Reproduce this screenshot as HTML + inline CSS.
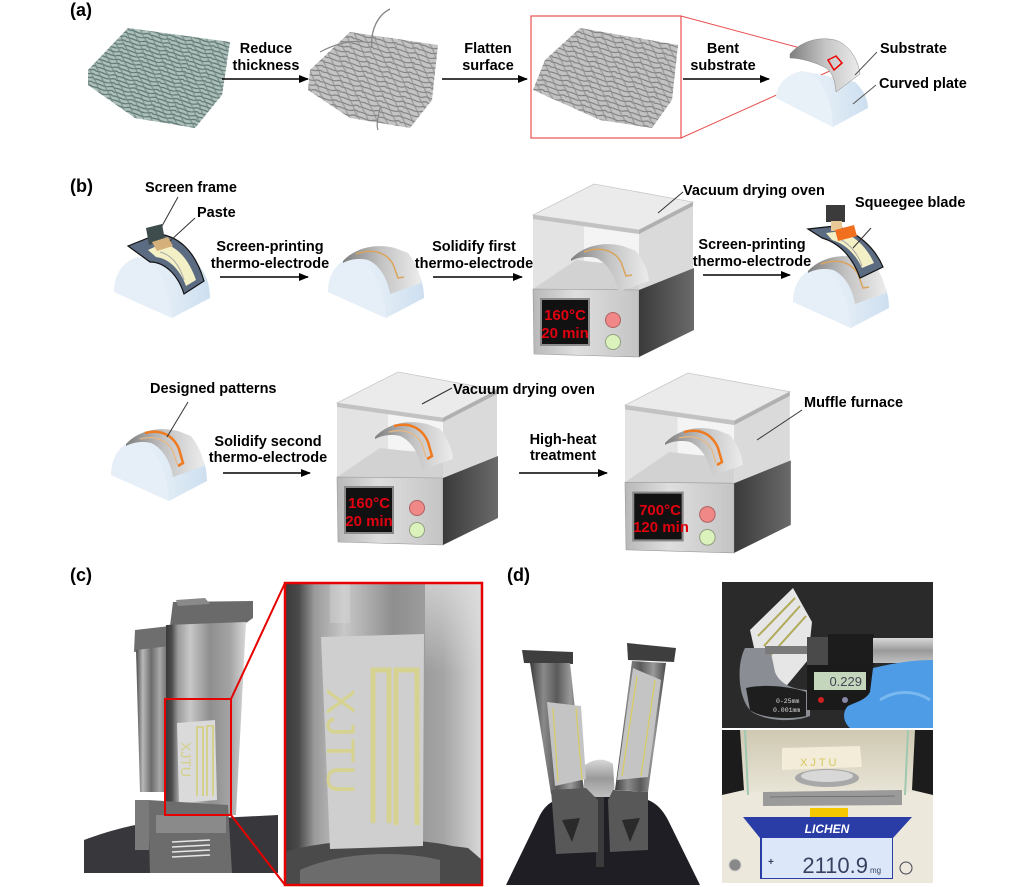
<!DOCTYPE html>
<html><head><meta charset="utf-8"><style>
html,body{margin:0;padding:0;background:#fff;}
svg{display:block;}
</style></head><body>
<svg width="1033" height="887" viewBox="0 0 1033 887" xmlns="http://www.w3.org/2000/svg" xmlns:xlink="http://www.w3.org/1999/xlink" font-family="'Liberation Sans', Arial, sans-serif" font-weight="bold" font-size="14.5">
<defs>
  <marker id="ah" markerWidth="10" markerHeight="8" refX="9" refY="4" orient="auto" markerUnits="userSpaceOnUse"><path d="M0,0 L10,4 L0,8 Z" fill="#000"/></marker>
  <pattern id="ph1" width="22" height="4" patternUnits="userSpaceOnUse" patternTransform="rotate(14)"><path d="M0,2 C5,0 11,4 16,2 S22,1 22,2" fill="none" stroke="#5c7570" stroke-width="1.2"/></pattern>
  <pattern id="pv1" width="7" height="16" patternUnits="userSpaceOnUse" patternTransform="rotate(-25)"><path d="M3,0 C4,5 2,10 3,16" fill="none" stroke="#6f8680" stroke-width="1.2"/></pattern>
  <pattern id="ph2" width="22" height="5" patternUnits="userSpaceOnUse" patternTransform="rotate(14)"><path d="M0,2 C5,0 11,4 16,2 S22,1 22,2" fill="none" stroke="#7a7a7a" stroke-width="1.1"/></pattern>
  <pattern id="pv2" width="8" height="16" patternUnits="userSpaceOnUse" patternTransform="rotate(-25)"><path d="M3,0 C4,5 2,10 3,16" fill="none" stroke="#8a8a8a" stroke-width="1.1"/></pattern>
  <linearGradient id="gPlate" x1="0" y1="0" x2="1" y2="0"><stop offset="0" stop-color="#eef4fa"/><stop offset="0.6" stop-color="#e0ebf5"/><stop offset="1" stop-color="#cddff0"/></linearGradient>
  <linearGradient id="gBand" x1="0" y1="0" x2="1" y2="0"><stop offset="0" stop-color="#7f7f7f"/><stop offset="0.5" stop-color="#c4c4c4"/><stop offset="1" stop-color="#ececec"/></linearGradient>
  <linearGradient id="gBaseF" x1="0" y1="0" x2="1" y2="0"><stop offset="0" stop-color="#b8b8b8"/><stop offset="0.4" stop-color="#dedede"/><stop offset="1" stop-color="#c4c4c4"/></linearGradient>
  <linearGradient id="gBaseR" x1="0" y1="0" x2="1" y2="0"><stop offset="0" stop-color="#3a3a3a"/><stop offset="1" stop-color="#6a6a6a"/></linearGradient>
  <linearGradient id="gMetal" x1="0" y1="0" x2="1" y2="0"><stop offset="0" stop-color="#4a4a4a"/><stop offset="0.2" stop-color="#b8b8b8"/><stop offset="0.45" stop-color="#6c6c6c"/><stop offset="0.7" stop-color="#a8a8a8"/><stop offset="1" stop-color="#5a5a5a"/></linearGradient>
  <linearGradient id="gMetal2" x1="0" y1="0" x2="1" y2="0"><stop offset="0" stop-color="#3a3a3a"/><stop offset="0.07" stop-color="#4a4a4a"/><stop offset="0.15" stop-color="#9a9a9a"/><stop offset="0.3" stop-color="#c8c8c8"/><stop offset="0.55" stop-color="#8e8e8e"/><stop offset="0.8" stop-color="#a4a4a4"/><stop offset="1" stop-color="#d8d8d8"/></linearGradient>
  <linearGradient id="gFade" x1="0" y1="0" x2="0" y2="1"><stop offset="0" stop-color="#e0e0e0" stop-opacity="0.7"/><stop offset="1" stop-color="#e0e0e0" stop-opacity="0"/></linearGradient>
  <linearGradient id="gBlade" x1="0" y1="0" x2="1" y2="0"><stop offset="0" stop-color="#3c3c3c"/><stop offset="0.25" stop-color="#8a8a8a"/><stop offset="0.5" stop-color="#5a5a5a"/><stop offset="0.75" stop-color="#9a9a9a"/><stop offset="1" stop-color="#4a4a4a"/></linearGradient>
  <linearGradient id="gSilver" x1="0" y1="0" x2="0" y2="1"><stop offset="0" stop-color="#d8d8d8"/><stop offset="0.5" stop-color="#9a9a9a"/><stop offset="1" stop-color="#c0c0c0"/></linearGradient>
  <linearGradient id="gScaleTop" x1="0" y1="0" x2="0" y2="1"><stop offset="0" stop-color="#cfc9b2"/><stop offset="1" stop-color="#e8e4d6"/></linearGradient>

  <g id="plate">
    <path d="M328,292 C328,275 338,260 352,257 L410,262 C418,270 424,282 424,298 L386,318 Z" fill="url(#gPlate)"/>
    <path d="M328,292 C328,272 340,258 354,258 C370,260 384,285 386,318 Z" fill="#e6eef7"/>
  </g>
  <path id="band" d="M343,261 C355,248 375,243 395,248 L408,253 C415,262 420,272 421,283 L390,294 C388,280 380,265 368,260 C360,258 350,259 343,263 Z" fill="url(#gBand)"/>

  <g id="oven">
    <path d="M337,405 L443,420 L443,478 L337,477 Z" fill="#e3e3e3"/>
    <path d="M388,414 L443,420 L443,452 L388,450 Z" fill="#f4f4f4"/>
    <path d="M337,477 L443,478 L443,455 L380,448 Z" fill="#d2d2d2"/>
    <path d="M443,420 L497,392 L497,457 L443,478 Z" fill="#dadada"/>
    <path d="M337,403 L398,372 L497,390 L443,418 Z" fill="#ebebeb" stroke="#c8c8c8" stroke-width="0.8"/>
    <path d="M337,403 L443,418 L443,422 L337,407 Z" fill="#c2c2c2"/>
    <path d="M443,418 L497,390 L497,394 L443,422 Z" fill="#b0b0b0"/>
    <path d="M337,477 L443,478 L443,545 L338,542 Z" fill="url(#gBaseF)" stroke="#999" stroke-width="0.6"/>
    <path d="M443,478 L498,456 L498,518 L443,545 Z" fill="url(#gBaseR)"/>
    <rect x="345" y="487" width="48" height="46" fill="#111" stroke="#8a8a8a" stroke-width="2"/>
    <circle cx="417" cy="508" r="7.5" fill="#f08888" stroke="#b06060" stroke-width="1"/>
    <circle cx="417" cy="530" r="7.5" fill="#dcf2bc" stroke="#90a080" stroke-width="1"/>
  </g>
</defs>

<!-- ============ (a) ============ -->
<text x="70" y="16" font-size="18">(a)</text>

<g>
  <polygon points="128,28 230,42 222,95 195,128 135,118 88,85 88,70" fill="#adc0bc"/>
  <polygon points="128,28 230,42 222,95 195,128 135,118 88,85 88,70" fill="url(#ph1)"/>
  <polygon points="128,28 230,42 222,95 195,128 135,118 88,85 88,70" fill="url(#pv1)" opacity="0.8"/>
</g>
<g>
  <polygon points="350,32 438,45 432,100 410,128 350,118 308,90 310,70" fill="#c4c4c4"/>
  <polygon points="350,32 438,45 432,100 410,128 350,118 308,90 310,70" fill="url(#ph2)"/>
  <polygon points="350,32 438,45 432,100 410,128 350,118 308,90 310,70" fill="url(#pv2)" opacity="0.8"/>
  <path d="M372,48 C370,30 378,15 390,9" fill="none" stroke="#888" stroke-width="1.4"/>
  <path d="M320,52 C335,44 350,40 365,42" fill="none" stroke="#888" stroke-width="1.2"/>
  <path d="M380,108 C378,118 376,125 378,130" fill="none" stroke="#888" stroke-width="1.2"/>
</g>
<g>
  <polygon points="580,28 678,45 672,100 652,128 600,120 533,90 545,60" fill="#c2c2c2"/>
  <polygon points="580,28 678,45 672,100 652,128 600,120 533,90 545,60" fill="url(#ph2)"/>
  <polygon points="580,28 678,45 672,100 652,128 600,120 533,90 545,60" fill="url(#pv2)" opacity="0.8"/>
</g>

<text x="266" y="53" text-anchor="middle">Reduce</text>
<text x="266" y="70" text-anchor="middle">thickness</text>
<line x1="222" y1="79" x2="308" y2="79" stroke="#000" stroke-width="1.5" marker-end="url(#ah)"/>
<text x="488" y="53" text-anchor="middle">Flatten</text>
<text x="488" y="70" text-anchor="middle">surface</text>
<line x1="442" y1="79" x2="527" y2="79" stroke="#000" stroke-width="1.5" marker-end="url(#ah)"/>
<text x="723" y="53" text-anchor="middle">Bent</text>
<text x="723" y="70" text-anchor="middle">substrate</text>
<line x1="683" y1="79" x2="769" y2="79" stroke="#000" stroke-width="1.5" marker-end="url(#ah)"/>

<rect x="531" y="16" width="150" height="122" fill="none" stroke="#e85050" stroke-width="1.2"/>
<line x1="681" y1="16" x2="834" y2="57" stroke="#e85050" stroke-width="1"/>
<line x1="681" y1="138" x2="832" y2="70" stroke="#e85050" stroke-width="1"/>

<path d="M776,98 C776,86 786,74 802,71 L855,82 C864,90 868,100 868,108 L833,127 Z" fill="url(#gPlate)"/>
<path d="M776,98 C776,84 790,72 805,72 C822,76 832,100 833,127 Z" fill="#e8f0f8"/>
<path d="M790,54 C800,42 818,36 835,40 C848,44 858,58 860,74 L836,92 C835,80 832,72 826,68 C815,62 800,58 790,58 Z" fill="url(#gBand)" stroke="#888" stroke-width="0.5"/>
<polygon points="828,60 836,56 842,63 834,70" fill="none" stroke="#e00" stroke-width="1.5"/>
<line x1="877" y1="52" x2="855" y2="75" stroke="#555" stroke-width="1"/>
<line x1="876" y1="85" x2="853" y2="104" stroke="#555" stroke-width="1"/>
<text x="880" y="53">Substrate</text>
<text x="879" y="88">Curved plate</text>

<!-- ============ (b) ============ -->
<text x="70" y="192" font-size="18">(b)</text>

<use href="#plate" xlink:href="#plate" transform="translate(-214,0)"/>
<path d="M128,246 L158,234 C178,236 195,250 204,281 L184,294 C178,275 165,262 150,262 Z" fill="#5b6b82" stroke="#111" stroke-width="1.2"/>
<path d="M148,250 L163,243 C178,247 189,260 196,280 L186,286 C180,270 170,259 156,257 Z" fill="#f4f0c6"/>
<path d="M160,252 C172,255 180,266 184,280" fill="none" stroke="#aaa" stroke-width="1"/>
<polygon points="146,228 162,224 165,240 149,245" fill="#3e4d4b"/>
<polygon points="152,242 168,237 173,246 157,251" fill="#d6b07a"/>
<line x1="178" y1="197" x2="162" y2="226" stroke="#333" stroke-width="1"/>
<line x1="195" y1="218" x2="170" y2="241" stroke="#333" stroke-width="1"/>
<text x="145" y="192">Screen frame</text>
<text x="197" y="217">Paste</text>

<text x="270" y="251" text-anchor="middle">Screen-printing</text>
<text x="270" y="268" text-anchor="middle">thermo-electrode</text>
<line x1="220" y1="277" x2="308" y2="277" stroke="#000" stroke-width="1.5" marker-end="url(#ah)"/>

<use href="#plate" xlink:href="#plate"/>
<use href="#band" xlink:href="#band"/>
<path d="M356,254 C372,248 386,252 393,264 L398,278 L404,277" fill="none" stroke="#d9a55e" stroke-width="1.5"/>

<text x="474" y="251" text-anchor="middle">Solidify first</text>
<text x="474" y="268" text-anchor="middle">thermo-electrode</text>
<line x1="433" y1="277" x2="522" y2="277" stroke="#000" stroke-width="1.5" marker-end="url(#ah)"/>

<use href="#oven" xlink:href="#oven" transform="translate(196,-188)"/>
<use href="#band" xlink:href="#band" transform="translate(228,-2)"/>
<path d="M584,252 C600,246 614,250 621,262 L626,276 L632,275" fill="none" stroke="#d9a55e" stroke-width="1.5"/>
<text x="565" y="320" text-anchor="middle" fill="#e00010" font-size="15">160°C</text>
<text x="565" y="338" text-anchor="middle" fill="#e00010" font-size="15">20 min</text>
<line x1="683" y1="192" x2="658" y2="213" stroke="#333" stroke-width="1"/>
<text x="683" y="195">Vacuum drying oven</text>

<text x="752" y="249" text-anchor="middle">Screen-printing</text>
<text x="752" y="266" text-anchor="middle">thermo-electrode</text>
<line x1="703" y1="275" x2="790" y2="275" stroke="#000" stroke-width="1.5" marker-end="url(#ah)"/>

<use href="#plate" xlink:href="#plate" transform="translate(465,10)"/>
<use href="#band" xlink:href="#band" transform="translate(465,10)"/>
<path d="M821,264 C837,258 851,262 858,274 L863,288 L869,287" fill="none" stroke="#d9a55e" stroke-width="1.5"/>
<path d="M808,229 L835,226 C858,232 875,248 883,267 L860,278 C853,258 840,243 822,238 Z" fill="#5b6b82" stroke="#111" stroke-width="1.2"/>
<path d="M826,233 L842,231 C858,238 868,250 874,263 L862,268 C856,255 846,244 832,240 Z" fill="#f4f0c6"/>
<path d="M838,238 C850,244 858,254 862,266" fill="none" stroke="#aaa" stroke-width="1"/>
<rect x="826" y="205" width="19" height="17" fill="#3b3b3b"/>
<rect x="831" y="221" width="11" height="10" fill="#e8c896"/>
<polygon points="835,230 854,225 857,236 838,241" fill="#f07020"/>
<line x1="871" y1="228" x2="853" y2="248" stroke="#333" stroke-width="1"/>
<text x="855" y="207">Squeegee blade</text>

<use href="#plate" xlink:href="#plate" transform="translate(-217,183)"/>
<use href="#band" xlink:href="#band" transform="translate(-217,183)"/>
<g transform="translate(-217,183)">
  <path d="M362,250 C378,246 390,252 396,266 L400,280 L395,283" fill="none" stroke="#f07a20" stroke-width="2.5"/>
  <path d="M357,256 C372,252 384,257 390,268 L394,281" fill="none" stroke="#e8b884" stroke-width="1.3"/>
</g>
<line x1="188" y1="402" x2="167" y2="437" stroke="#333" stroke-width="1"/>
<text x="150" y="393">Designed patterns</text>

<text x="268" y="446" text-anchor="middle">Solidify second</text>
<text x="268" y="462" text-anchor="middle">thermo-electrode</text>
<line x1="223" y1="473" x2="310" y2="473" stroke="#000" stroke-width="1.5" marker-end="url(#ah)"/>

<use href="#oven" xlink:href="#oven"/>
<use href="#band" xlink:href="#band" transform="translate(32,176)"/>
<g transform="translate(32,176)">
  <path d="M362,250 C378,246 390,252 396,266 L400,280 L395,283" fill="none" stroke="#f07a20" stroke-width="2.5"/>
  <path d="M357,256 C372,252 384,257 390,268 L394,281" fill="none" stroke="#e8b884" stroke-width="1.3"/>
</g>
<text x="369" y="508" text-anchor="middle" fill="#e00010" font-size="15">160°C</text>
<text x="369" y="526" text-anchor="middle" fill="#e00010" font-size="15">20 min</text>
<line x1="452" y1="388" x2="422" y2="404" stroke="#333" stroke-width="1"/>
<text x="453" y="394">Vacuum drying oven</text>

<text x="563" y="444" text-anchor="middle">High-heat</text>
<text x="563" y="460" text-anchor="middle">treatment</text>
<line x1="519" y1="473" x2="607" y2="473" stroke="#000" stroke-width="1.5" marker-end="url(#ah)"/>

<use href="#oven" xlink:href="#oven" transform="translate(625,373) scale(1.03,1.04) translate(-337,-372)"/>
<use href="#band" xlink:href="#band" transform="translate(322,182)"/>
<g transform="translate(322,182)">
  <path d="M362,250 C378,246 390,252 396,266 L400,280 L395,283" fill="none" stroke="#f07a20" stroke-width="2.5"/>
  <path d="M357,256 C372,252 384,257 390,268 L394,281" fill="none" stroke="#e8b884" stroke-width="1.3"/>
</g>
<text x="660" y="515" text-anchor="middle" fill="#e00010" font-size="15">700°C</text>
<text x="661" y="532" text-anchor="middle" fill="#e00010" font-size="15">120 min</text>
<line x1="802" y1="410" x2="757" y2="440" stroke="#333" stroke-width="1"/>
<text x="804" y="407">Muffle furnace</text>

<!-- ============ (c) ============ -->
<text x="70" y="581" font-size="18">(c)</text>

<path d="M84,840 C110,830 140,823 160,821 L278,815 L278,873 L84,873 Z" fill="#38383c"/>
<polygon points="135,630 170,626 172,648 134,652" fill="#6e6e6e"/>
<polygon points="136,650 170,646 168,792 140,792" fill="url(#gMetal)"/>
<polygon points="173,602 253,601 253,618 246,623 170,626" fill="#6a6a6a"/>
<polygon points="176,600 205,598 210,604 178,606" fill="#8a8a8a"/>
<polygon points="166,625 246,622 236,815 166,815" fill="url(#gMetal2)"/>
<polygon points="177,723 215,720 217,800 179,803" fill="#dadada"/>
<text transform="translate(181,742) rotate(90)" font-size="14" font-weight="normal" fill="#d4d086">XJTU</text>
<path d="M197,796 L197,727 L203,727 L203,796 M207,796 L207,726 L213,726 L213,796" fill="none" stroke="#d4d086" stroke-width="1.8"/>
<polygon points="148,800 228,805 232,873 150,873" fill="#6c6c6c"/>
<rect x="156" y="815" width="70" height="18" fill="#8a8a8a"/>
<g stroke="#e6e6e6" stroke-width="1.6"><line x1="172" y1="842" x2="210" y2="840"/><line x1="172" y1="847" x2="210" y2="845"/><line x1="172" y1="852" x2="210" y2="850"/><line x1="172" y1="857" x2="210" y2="855"/></g>
<rect x="135" y="800" width="14" height="50" fill="#7a7a7a"/>
<rect x="165" y="699" width="66" height="116" fill="none" stroke="#e60000" stroke-width="2"/>
<line x1="231" y1="699" x2="285" y2="583" stroke="#e60000" stroke-width="2"/>
<line x1="231" y1="815" x2="285" y2="885" stroke="#e60000" stroke-width="2"/>

<rect x="285" y="583" width="197" height="302" fill="url(#gMetal2)"/>
<rect x="425" y="583" width="57" height="90" fill="url(#gFade)"/>
<rect x="330" y="583" width="20" height="40" fill="#dcdcdc" opacity="0.35"/>
<path d="M285,885 L285,852 C330,838 410,836 452,846 L468,848 L482,860 L482,885 Z" fill="#4a4a4a"/>
<path d="M300,870 C340,852 400,850 440,860 L440,885 L300,885 Z" fill="#7a7a7a" opacity="0.7"/>
<polygon points="321,637 424,634 423,846 330,849" fill="#cfcfcf"/>
<text transform="translate(327,688) rotate(90)" font-size="40" font-weight="normal" fill="#d6d290" letter-spacing="2">XJTU</text>
<path d="M373,823 L373,670 L389,670 L389,823 M396,825 L396,670 L417,670 L417,825" fill="none" stroke="#d6d290" stroke-width="5"/>
<rect x="285" y="583" width="197" height="302" fill="none" stroke="#e60000" stroke-width="2.5"/>

<!-- ============ (d) ============ -->
<text x="507" y="581" font-size="18">(d)</text>

<path d="M506,885 L540,815 C548,800 560,797 575,797 L630,797 C650,797 660,805 668,820 L700,885 Z" fill="#1e1e24"/>
<path d="M583,797 L585,765 C595,758 605,758 613,764 L615,797 Z" fill="url(#gSilver)"/>
<rect x="596" y="797" width="8" height="70" fill="#3a3a3a"/>
<polygon points="522,650 573,652 573,664 524,663" fill="#3e3e3e"/>
<polygon points="530,663 570,663 584,792 551,794" fill="url(#gBlade)"/>
<polygon points="547,702 581,706 586,779 555,786" fill="#c4c4c4"/>
<path d="M553,708 L558,782 M576,708 L582,780" stroke="#d8cc60" stroke-width="1.2" fill="none"/>
<polygon points="551,790 586,788 598,800 598,852 556,854" fill="#585858"/>
<polygon points="562,820 580,818 572,842" fill="#2a2a2a"/>
<polygon points="627,643 676,648 674,662 628,660" fill="#3e3e3e"/>
<polygon points="632,661 666,663 648,792 615,790" fill="url(#gBlade)"/>
<polygon points="633,668 661,680 648,777 617,780" fill="#c4c4c4"/>
<path d="M637,676 L622,776 M655,680 L641,776" stroke="#d8cc60" stroke-width="1.2" fill="none"/>
<polygon points="613,790 648,792 648,850 610,852 608,800" fill="#585858"/>
<polygon points="622,820 640,818 630,842" fill="#2a2a2a"/>

<rect x="722" y="582" width="211" height="146" fill="#2a2a2a"/>
<polygon points="750,630 793,588 812,622 808,660 783,690 755,652" fill="#e6e6e6"/>
<path d="M758,636 L795,598 M764,646 L800,606 M770,656 L806,616" stroke="#b0aa5a" stroke-width="2" fill="none"/>
<path d="M745,648 C736,665 738,700 752,712 C768,722 795,722 810,716 L810,690 C795,690 780,685 775,672 L770,648 Z" fill="#8a8e94"/>
<path d="M746,688 C760,684 790,686 806,692 L806,716 C790,720 760,718 750,710 Z" fill="#1e1e1e"/>
<text x="776" y="703" font-size="6.5" font-weight="normal" fill="#ddd" font-family="'Liberation Mono', monospace">0-25mm</text>
<text x="773" y="712" font-size="6.5" font-weight="normal" fill="#ddd" font-family="'Liberation Mono', monospace">0.001mm</text>
<rect x="765" y="646" width="44" height="8" fill="#7a7a7a"/>
<circle cx="815" cy="649" r="6" fill="#1a1a1a"/>
<rect x="807" y="637" width="22" height="28" fill="#4a4a4a"/>
<rect x="828" y="634" width="46" height="32" fill="#1c1c1c"/>
<rect x="873" y="638" width="60" height="25" fill="url(#gSilver)"/>
<rect x="807" y="665" width="66" height="45" fill="#1a1a1a"/>
<rect x="814" y="672" width="52" height="18" fill="#c4d6bc"/>
<text x="862" y="686" text-anchor="end" font-size="13" font-weight="normal" fill="#445">0.229</text>
<circle cx="821" cy="700" r="3" fill="#d02020"/>
<circle cx="845" cy="700" r="3" fill="#8888aa"/>
<path d="M933,660 L933,728 L850,728 C843,722 842,712 848,706 C856,702 866,700 870,692 L873,668 C890,664 910,660 933,660 Z" fill="#4e9be6"/>
<path d="M880,700 C895,690 915,690 930,700" stroke="#7ab8f0" stroke-width="3" fill="none"/>

<rect x="722" y="730" width="211" height="153" fill="#ece8dc"/>
<rect x="722" y="730" width="211" height="62" fill="url(#gScaleTop)"/>
<polygon points="722,730 740,730 744,790 722,795" fill="#1c1c1c"/>
<polygon points="915,730 933,730 933,795 912,790" fill="#1c1c1c"/>
<line x1="745" y1="730" x2="748" y2="795" stroke="#9fc8b0" stroke-width="2"/>
<line x1="908" y1="730" x2="905" y2="795" stroke="#9fc8b0" stroke-width="2"/>
<polygon points="782,748 860,746 862,767 782,770" fill="#f2ecd8"/>
<text x="800" y="766" font-size="11" font-weight="normal" fill="#d8c860" letter-spacing="3">XJTU</text>
<ellipse cx="827" cy="778" rx="32" ry="9" fill="#a8a8a8"/>
<ellipse cx="827" cy="776" rx="26" ry="6" fill="#d8d8d8"/>
<polygon points="763,792 902,790 902,805 763,806" fill="#9a9a9a"/>
<g stroke="#555" stroke-width="0.6"><line x1="770" y1="797" x2="895" y2="796"/></g>
<rect x="810" y="808" width="38" height="10" fill="#f5c800"/>
<polygon points="743,817 912,817 893,838 893,879 760,879 760,838" fill="#2a3da6"/>
<rect x="762" y="838" width="130" height="40" fill="#dce8fa"/>
<text x="827" y="833" text-anchor="middle" font-size="12" font-style="italic" fill="#fff">LICHEN</text>
<text x="868" y="873" text-anchor="end" font-size="22" font-weight="normal" fill="#3a4060">2110.9</text>
<text x="870" y="873" font-size="8" font-weight="normal" fill="#3a4060">mg</text>
<text x="768" y="865" font-size="10" fill="#3a4060">+</text>
<circle cx="906" cy="868" r="6" fill="none" stroke="#445" stroke-width="1"/>
<circle cx="735" cy="865" r="6" fill="#888" stroke="#ccc"/>
</svg>
</body></html>
